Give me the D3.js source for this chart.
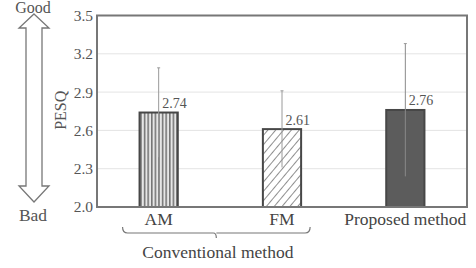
<!DOCTYPE html>
<html>
<head>
<meta charset="utf-8">
<script src="https://cdn.jsdelivr.net/npm/d3@7"></script>
<style>
  body { margin: 0; background: #fff; }
  svg { display: block; font-family: "Liberation Serif", "DejaVu Serif", serif; }
</style>
</head>
<body>
<div id="chart"></div>
<script>
// datos del gráfico
const categories = ["AM", "FM", "Proposed method"];
const means = [2.74, 2.61, 2.76];
const errors = [0.35, 0.30, 0.52];
const yTicks = [2.0, 2.3, 2.6, 2.9, 3.2, 3.5];
const groupLabel = "Conventional method";

const W = 476, H = 268;
const margin = { top: 15.5, right: 9, bottom: 61, left: 97 };
const width = W - margin.left - margin.right;
const height = H - margin.top - margin.bottom;

const svg = d3.select("#chart").append("svg")
    .attr("width", W)
    .attr("height", H);

// patrones de relleno
const defs = svg.append("defs");
const vp = defs.append("pattern")
    .attr("id", "vstripe")
    .attr("patternUnits", "userSpaceOnUse")
    .attr("width", 3.6).attr("height", 10);
vp.append("rect").attr("width", 3.6).attr("height", 10).attr("fill", "#e6e6e6");
vp.append("line").attr("x1", 0.8).attr("x2", 0.8).attr("y1", 0).attr("y2", 10)
    .attr("stroke", "#666").attr("stroke-width", 1.4);

const dp = defs.append("pattern")
    .attr("id", "diag")
    .attr("patternUnits", "userSpaceOnUse")
    .attr("width", 6).attr("height", 6)
    .attr("patternTransform", "rotate(40)");
dp.append("rect").attr("width", 6).attr("height", 6).attr("fill", "#fff");
dp.append("line").attr("x1", 0).attr("x2", 0).attr("y1", 0).attr("y2", 6)
    .attr("stroke", "#6a6a6a").attr("stroke-width", 1.5);

const fills = ["url(#vstripe)", "url(#diag)", "#5c5c5c"];

const g = svg.append("g").attr("transform", `translate(${margin.left},${margin.top})`);

// escalas
const x = d3.scaleBand().domain(categories).range([0, width])
    .paddingInner(0.69).paddingOuter(0.345);
const y = d3.scaleLinear().domain([2.0, 3.5]).range([height, 0]);

// rejilla
g.append("g").selectAll("line")
    .data(yTicks.slice(1, -1))
    .enter().append("line")
    .attr("x1", 0).attr("x2", width)
    .attr("y1", d => y(d)).attr("y2", d => y(d))
    .attr("stroke", "#e4e4e4").attr("stroke-width", 1);

// eje Y
const yAxis = g.append("g")
    .call(d3.axisLeft(y).tickValues(yTicks).tickFormat(d3.format(".1f")).tickSize(0).tickPadding(4));
yAxis.select(".domain").remove();
yAxis.selectAll("text").attr("font-size", 15.5).attr("fill", "#555")
    .attr("font-family", "Liberation Serif, serif");

// barras
g.selectAll("rect.bar")
    .data(categories)
    .enter().append("rect")
    .attr("class", "bar")
    .attr("x", d => x(d))
    .attr("y", (d, i) => y(means[i]))
    .attr("width", x.bandwidth())
    .attr("height", (d, i) => height - y(means[i]))
    .attr("fill", (d, i) => fills[i])
    .attr("stroke", "#474747")
    .attr("stroke-width", 2);

// barras de error
const eb = g.append("g").selectAll("g")
    .data(categories)
    .enter().append("g");
eb.append("line")
    .attr("x1", d => x(d) + x.bandwidth() / 2)
    .attr("x2", d => x(d) + x.bandwidth() / 2)
    .attr("y1", (d, i) => y(means[i] + errors[i]))
    .attr("y2", (d, i) => y(means[i] - errors[i]))
    .attr("stroke", (d, i) => i === 2 ? "#8a8a8a" : "#9a9a9a")
    .attr("stroke-width", 1);
eb.append("line")
    .attr("x1", d => x(d) + x.bandwidth() / 2 - 1.5)
    .attr("x2", d => x(d) + x.bandwidth() / 2 + 1.5)
    .attr("y1", (d, i) => y(means[i] + errors[i]))
    .attr("y2", (d, i) => y(means[i] + errors[i]))
    .attr("stroke", "#999").attr("stroke-width", 1);

// etiquetas de valor
g.selectAll("text.val")
    .data(categories)
    .enter().append("text")
    .attr("class", "val")
    .attr("x", d => x(d) + x.bandwidth() / 2 + 3.5)
    .attr("y", (d, i) => y(means[i]) - 4.5)
    .attr("font-size", 14)
    .attr("fill", "#555")
    .text((d, i) => d3.format(".2f")(means[i]));

// marco
g.append("rect")
    .attr("x", 0).attr("y", 0)
    .attr("width", width).attr("height", height)
    .attr("fill", "none")
    .attr("stroke", "#777")
    .attr("stroke-width", 2);

// categorías
g.selectAll("text.cat")
    .data(categories)
    .enter().append("text")
    .attr("class", "cat")
    .attr("x", d => x(d) + x.bandwidth() / 2)
    .attr("y", height + 18)
    .attr("text-anchor", "middle")
    .attr("font-size", 17.5)
    .attr("fill", "#444")
    .text(d => d);

// llave bajo AM y FM
const bx0 = x("AM") - 17, bx1 = x("FM") + x.bandwidth() + 9, by = height + 22;
const bmid = (bx0 + bx1) / 2;
g.append("path")
    .attr("d", `M${bx0},${by - 2} Q${bx0},${by + 4} ${bx0 + 5},${by + 4} L${bmid - 3},${by + 4} Q${bmid},${by + 4} ${bmid},${by + 9}
                M${bmid},${by + 4} L${bx1 - 5},${by + 4} Q${bx1},${by + 4} ${bx1},${by - 2}`)
    .attr("fill", "none")
    .attr("stroke", "#777")
    .attr("stroke-width", 1.2);
g.append("text")
    .attr("x", bmid + 1.5)
    .attr("y", height + 51)
    .attr("text-anchor", "middle")
    .attr("font-size", 17.5)
    .attr("fill", "#444")
    .text(groupLabel);

// etiqueta del eje Y
svg.append("text")
    .attr("transform", `translate(66,${margin.top + height / 2 - 1}) rotate(-90)`)
    .attr("text-anchor", "middle")
    .attr("font-size", 16)
    .attr("fill", "#555")
    .text("PESQ");

// flecha doble Good / Bad
const ax = 34, arrTop = 14, arrBot = 202, hw = 15, sw = 8, hhTop = 14, hhBot = 16;
svg.append("path")
    .attr("d", `M${ax},${arrTop} L${ax + hw},${arrTop + hhTop} L${ax + sw},${arrTop + hhTop} L${ax + sw},${arrBot - hhBot}
                L${ax + hw},${arrBot - hhBot} L${ax},${arrBot} L${ax - hw},${arrBot - hhBot} L${ax - sw},${arrBot - hhBot}
                L${ax - sw},${arrTop + hhTop} L${ax - hw},${arrTop + hhTop} Z`)
    .attr("fill", "#fff")
    .attr("stroke", "#777")
    .attr("stroke-width", 1.3);
svg.append("text")
    .attr("x", ax - 1).attr("y", 12.5)
    .attr("text-anchor", "middle")
    .attr("font-size", 16)
    .attr("fill", "#555")
    .text("Good");
svg.append("text")
    .attr("x", ax - 1).attr("y", 221)
    .attr("text-anchor", "middle")
    .attr("font-size", 17.5)
    .attr("fill", "#555")
    .text("Bad");
</script>
</body>
</html>
